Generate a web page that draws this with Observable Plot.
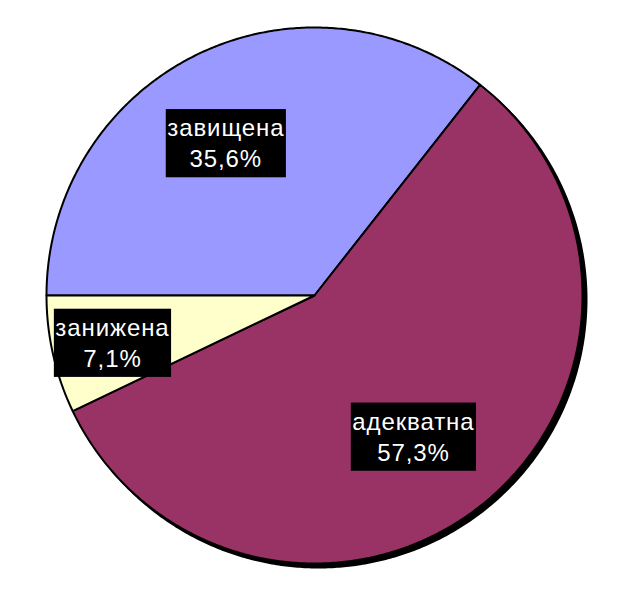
<!DOCTYPE html>
<html><head><meta charset="utf-8">
<script src="https://cdn.jsdelivr.net/npm/d3@7"></script>
<script src="https://cdn.jsdelivr.net/npm/@observablehq/plot@0.6"></script>
<style>
html,body{margin:0;padding:0;background:#fff;}
#chart{width:633px;height:593px;overflow:hidden;}
</style>
</head><body><div id="chart"></div>
<script>
// ---- data ----
const categories = ["завищена", "адекватна", "занижена"];
const values = [35.6, 57.3, 7.1];
const valueLabels = ["35,6%", "57,3%", "7,1%"];
const colors = ["#9999FF", "#993366", "#FFFFCC"];

// ---- layout ----
const W = 633, H = 593, CX = 314, CY = 295, R = 268;
const labelRadius = {"завищена": 0.663, "адекватна": 0.644, "занижена": 0.773};
const labelShift = {"завищена": [-11, 6], "адекватна": [-9, 5], "занижена": [0, 0]};

const pie = d3.pie().sort(null).value(d => d.value)
  .startAngle(-Math.PI / 2).endAngle(3 * Math.PI / 2);
const table = categories.map((c, i) => ({cat: c, value: values[i], label: valueLabels[i]}));
const arcs = pie(table);

// slice polygons (center + arc points)
const slicePts = [];
for (const a of arcs) {
  slicePts.push({cat: a.data.cat, x: 0, y: 0});
  const n = Math.max(2, Math.ceil((a.endAngle - a.startAngle) / (Math.PI / 360)));
  for (let k = 0; k <= n; k++) {
    const t = a.startAngle + (a.endAngle - a.startAngle) * k / n;
    slicePts.push({cat: a.data.cat, x: Math.sin(t), y: Math.cos(t)});
  }
}
const circlePts = d3.range(0, 721).map(k => {
  const t = k * Math.PI / 360;
  return {x: Math.sin(t), y: Math.cos(t)};
});
const labelData = arcs.map(a => {
  const m = (a.startAngle + a.endAngle) / 2, r = labelRadius[a.data.cat];
  return {cat: a.data.cat, text: a.data.cat + "\n" + a.data.label,
          x: r * Math.sin(m), y: r * Math.cos(m),
          dx: labelShift[a.data.cat][0], dy: labelShift[a.data.cat][1]};
});

const plot = Plot.plot({
  width: W, height: H,
  margin: 0,
  x: {domain: [-CX / R, (W - CX) / R], range: [0, W], axis: null},
  y: {domain: [-(H - CY) / R, CY / R], range: [H, 0], axis: null},
  color: {domain: categories, range: colors},
  style: {background: "#fff", fontFamily: "'Liberation Sans', Arial, sans-serif"},
  marks: [
    Plot.line(circlePts, {x: "x", y: "y", fill: "black", stroke: "black", strokeWidth: 2, dx: 4, dy: 4, curve: "linear-closed"}),
    Plot.line(slicePts, {x: "x", y: "y", z: "cat", fill: "cat", stroke: "black", strokeWidth: 2, strokeLinejoin: "round", curve: "linear-closed"}),
    ...labelData.map(d => Plot.text([d], {x: "x", y: "y", text: "text", fill: "white", fontSize: 24, lineHeight: 1.3, dx: d.dx, dy: d.dy}))
  ]
});
document.getElementById("chart").appendChild(plot);

// black label backgrounds sized to the rendered text
plot.querySelectorAll("g[aria-label='text'] text").forEach(t => {
  t.style.letterSpacing = "0.9px";
  const b = t.getBBox();
  const padX = 1.5, padY = 5;
  const rect = document.createElementNS("http://www.w3.org/2000/svg", "rect");
  rect.setAttribute("x", b.x - padX);
  rect.setAttribute("y", b.y - padY);
  rect.setAttribute("width", b.width + 2 * padX);
  rect.setAttribute("height", b.height + 2 * padY);
  rect.setAttribute("fill", "black");
  const tr = t.getAttribute("transform");
  if (tr) rect.setAttribute("transform", tr);
  t.parentNode.insertBefore(rect, t);
});
</script>
</body></html>
